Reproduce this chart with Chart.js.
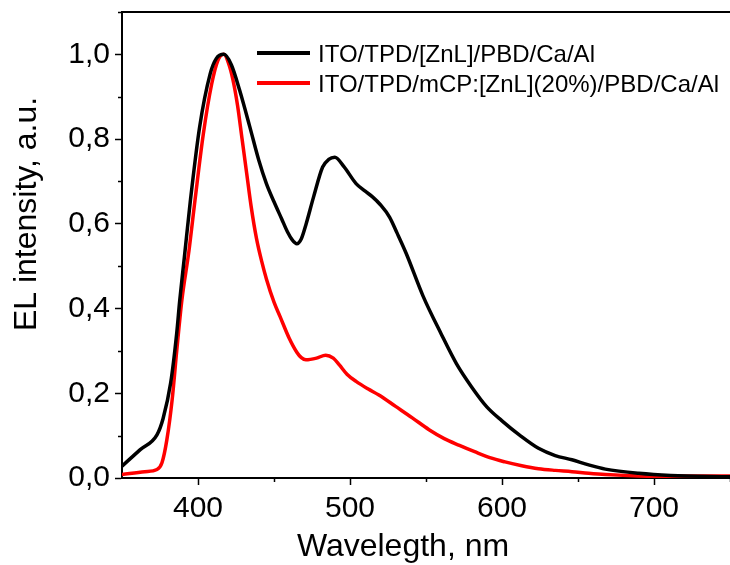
<!DOCTYPE html>
<html>
<head>
<meta charset="utf-8">
<script src="https://cdn.jsdelivr.net/npm/chart.js@4/dist/chart.umd.min.js"></script>
<style>
  html, body { margin: 0; padding: 0; background: #fff; }
  #wrap { width: 730px; height: 565px; }
</style>
</head>
<body>
<div id="wrap"><canvas id="elChart" width="730" height="565"></canvas></div>
<script>
// series (wavelength in nm, normalised EL intensity)
const seriesNames = ['ITO/TPD/[ZnL]/PBD/Ca/Al', 'ITO/TPD/mCP:[ZnL](20%)/PBD/Ca/Al'];

const blackWl = [350, 362, 373, 377, 382, 386, 388, 391, 395, 401, 408, 412, 417, 422, 427.5, 434, 440, 445, 450, 455, 459, 462, 465, 468, 471, 476, 482, 486, 490, 496, 504, 510, 515, 520, 526, 531, 537, 548, 560, 570, 580, 590, 600, 612, 624, 635, 646, 657, 668, 690, 711, 750];
const blackEl = [0.028, 0.067, 0.102, 0.14, 0.224, 0.342, 0.42, 0.52, 0.655, 0.827, 0.954, 0.99, 1.0, 0.975, 0.914, 0.83, 0.75, 0.695, 0.652, 0.612, 0.58, 0.562, 0.553, 0.565, 0.598, 0.663, 0.734, 0.752, 0.757, 0.735, 0.695, 0.677, 0.663, 0.645, 0.616, 0.578, 0.53, 0.43, 0.34, 0.27, 0.215, 0.168, 0.135, 0.1, 0.07, 0.053, 0.043, 0.031, 0.021, 0.011, 0.006, 0.003];

const redWl = [350, 365, 373, 376.3, 379.5, 383, 386, 389.4, 394, 398, 403.5, 409, 413, 417, 420, 423, 426, 429, 432, 435, 438.5, 442, 445, 450, 454, 460, 465, 468, 471, 478, 484, 489, 493, 498, 504, 512, 519, 530, 541, 552, 562, 572, 582, 592, 602, 613, 624, 635, 646, 657, 668, 700, 750];
const redEl = [0.008, 0.015, 0.02, 0.036, 0.09, 0.185, 0.30, 0.42, 0.535, 0.655, 0.812, 0.93, 0.985, 1.0, 0.98, 0.94, 0.88, 0.8, 0.72, 0.64, 0.565, 0.51, 0.47, 0.415, 0.381, 0.33, 0.297, 0.284, 0.279, 0.283, 0.29, 0.283, 0.267, 0.245, 0.228, 0.21, 0.196, 0.169, 0.142, 0.114, 0.093, 0.077, 0.062, 0.048, 0.038, 0.029, 0.022, 0.018, 0.015, 0.011, 0.008, 0.004, 0.005];

const xMajorTicks = [400, 500, 600, 700];
const xMinorTicks = [450, 550, 650, 750];
const yMinorTicks = [0.1, 0.3, 0.5, 0.7, 0.9, 1.1];

const xTitle = 'Wavelegth, nm';
const yTitle = 'EL intensity, a.u.';

const FONT = "'Liberation Sans', Arial, sans-serif";
const colors = ['#000000', '#ff0000'];

function toPoints(xs, ys) {
  return xs.map((x, i) => ({ x: x, y: ys[i] }));
}

const isMajorY = v => Math.round(v * 10) % 2 === 0;

// extra drawing: frame top, minor ticks, in-plot legend, axis titles
const decorPlugin = {
  id: 'decor',
  afterDraw(chart) {
    const { ctx, chartArea: a, scales } = chart;
    const xs = scales.x, ys = scales.y;
    ctx.save();
    ctx.strokeStyle = '#000';
    ctx.lineWidth = 2;
    ctx.beginPath();
    ctx.moveTo(a.left - 1, a.top);
    ctx.lineTo(a.right, a.top);
    ctx.stroke();

    ctx.lineWidth = 1.5;
    xMinorTicks.forEach(v => {
      const px = Math.round(xs.getPixelForValue(v)) + 0.5;
      ctx.beginPath();
      ctx.moveTo(px, a.bottom);
      ctx.lineTo(px, a.bottom + 4);
      ctx.stroke();
    });
    yMinorTicks.forEach(v => {
      const py = Math.round(ys.getPixelForValue(v)) + 0.5;
      ctx.beginPath();
      ctx.moveTo(a.left, py);
      ctx.lineTo(a.left - 4, py);
      ctx.stroke();
    });

    // legend
    const lx = a.left + 135;
    const rows = [a.top + 41, a.top + 71];
    chart.data.datasets.forEach((ds, i) => {
      ctx.strokeStyle = ds.borderColor;
      ctx.lineWidth = 4;
      ctx.beginPath();
      ctx.moveTo(lx, rows[i]);
      ctx.lineTo(lx + 53, rows[i]);
      ctx.stroke();
      ctx.fillStyle = '#000';
      ctx.font = '24px ' + FONT;
      ctx.textAlign = 'left';
      ctx.textBaseline = 'alphabetic';
      ctx.fillText(ds.label, lx + 61, rows[i] + 9);
    });

    // axis titles
    ctx.fillStyle = '#000';
    ctx.font = '32px ' + FONT;
    ctx.textAlign = 'center';
    ctx.textBaseline = 'alphabetic';
    ctx.fillText(xTitle, 403, 556);
    ctx.translate(36, 214);
    ctx.rotate(-Math.PI / 2);
    ctx.fillText(yTitle, 0, 0);
    ctx.restore();
  }
};

const elChart = new Chart(document.getElementById('elChart').getContext('2d'), {
  type: 'line',
  data: {
    datasets: [
      {
        label: seriesNames[0],
        data: toPoints(blackWl, blackEl),
        borderColor: colors[0],
        borderWidth: 3.5,
        pointRadius: 0,
        cubicInterpolationMode: 'monotone',
        fill: false
      },
      {
        label: seriesNames[1],
        data: toPoints(redWl, redEl),
        borderColor: colors[1],
        borderWidth: 3.5,
        pointRadius: 0,
        cubicInterpolationMode: 'monotone',
        fill: false
      }
    ]
  },
  options: {
    responsive: false,
    animation: false,
    layout: { padding: { left: 0, top: 12, right: 0, bottom: 0 } },
    scales: {
      x: {
        type: 'linear',
        min: 350,
        max: 750,
        afterFit(scale) {
          scale.height = 87;
          scale.paddingLeft = 0;
          scale.paddingRight = 0;
        },
        border: { display: true, color: '#000', width: 2 },
        grid: {
          drawOnChartArea: false,
          drawTicks: true,
          tickLength: 7,
          tickWidth: 1.5,
          tickColor: c => xMajorTicks.includes(c.tick.value) ? '#000' : 'rgba(0,0,0,0)'
        },
        ticks: {
          stepSize: 50,
          autoSkip: false,
          maxRotation: 0,
          padding: 6,
          color: '#000',
          font: { family: FONT, size: 30 },
          callback: v => xMajorTicks.includes(v) ? String(v) : ''
        }
      },
      y: {
        type: 'linear',
        min: 0,
        max: 1.1,
        afterFit(scale) {
          scale.width = 122;
          scale.paddingTop = 0;
          scale.paddingBottom = 0;
        },
        border: { display: true, color: '#000', width: 2 },
        grid: {
          drawOnChartArea: false,
          drawTicks: true,
          tickLength: 7,
          tickWidth: 1.5,
          tickColor: c => isMajorY(c.tick.value) ? '#000' : 'rgba(0,0,0,0)'
        },
        ticks: {
          stepSize: 0.1,
          autoSkip: false,
          padding: 5,
          color: '#000',
          font: { family: FONT, size: 30 },
          callback: v => isMajorY(v) && v < 1.05 ? v.toFixed(1).replace('.', ',') : ''
        }
      }
    },
    plugins: {
      legend: { display: false },
      tooltip: { enabled: false }
    }
  },
  plugins: [decorPlugin]
});
</script>
</body>
</html>
